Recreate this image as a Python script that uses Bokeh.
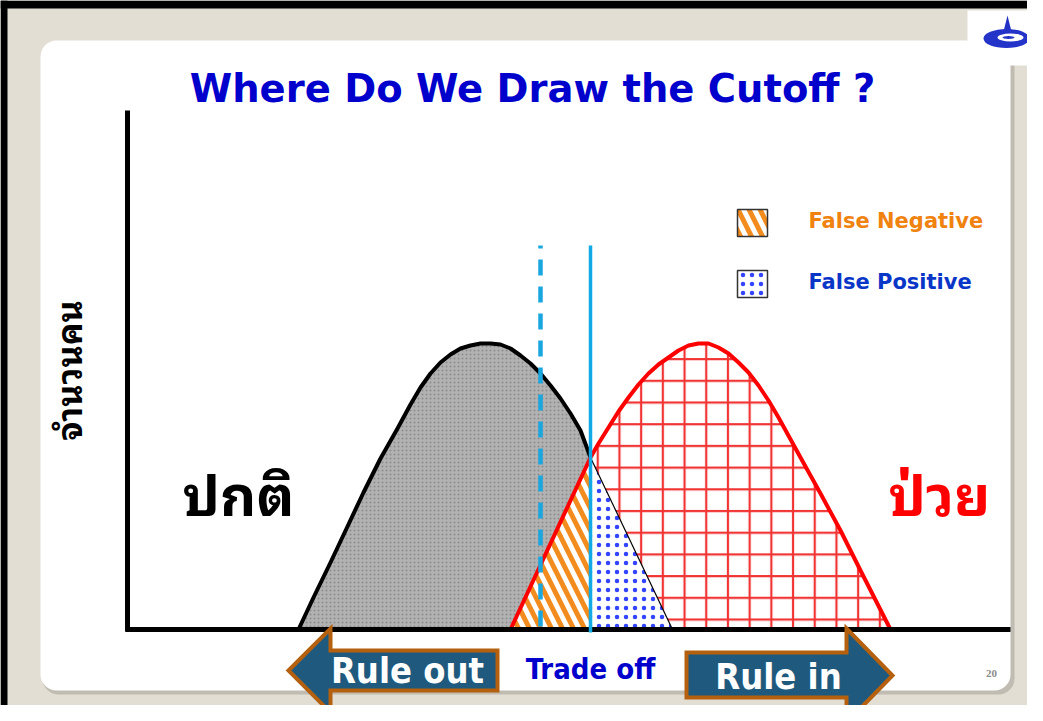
from bokeh.plotting import figure
from bokeh.models import Range1d, BoxAnnotation, Label
from bokeh.embed import file_html
from bokeh.resources import INLINE

# ---------------- data (x: test value, y: number of people) ----------------
normal_x = [171, 186, 203, 220, 236, 253, 270, 283, 293, 303, 313, 323, 333, 343, 353, 363, 373,
            383, 393, 403, 413, 423, 433, 443, 453, 463, 545]
normal_y = [0, 32, 67, 103, 137, 171, 201, 225, 242, 256, 267, 275, 281, 284, 286, 286, 285,
            281, 274, 266, 256, 244, 231, 216, 199, 172, 0]
disease_x = [383, 463, 471, 481, 491, 501, 511, 521, 531, 541, 551, 561, 571, 581, 591, 601, 611,
             621, 631, 641, 651, 673, 693, 713, 733, 763]
disease_y = [0, 172, 186, 202, 218, 232, 245, 256, 265, 272, 279, 284, 286, 286, 282, 276, 267,
             257, 244, 229, 212, 172, 136, 99, 59, 0]
cutoff_dashed = 413
cutoff_solid = 463

title_text = "Where Do We Draw the Cutoff ?"
ylabel_text = "จำนวนคน"
normal_label = "ปกติ"
disease_label = "ป่วย"
legend_labels = ["False Negative", "False Positive"]
arrow_labels = ["Rule out", "Rule in"]
middle_label = "Trade off"
page_number = "20"

# ---------------- figure ----------------
W, H = 1027, 705


def X(px):
    return px - 127


def Y(py):
    return 629 - py


p = figure(width=W, height=H, x_range=Range1d(X(0), X(W)), y_range=Range1d(Y(H), Y(0)),
           output_backend="svg", toolbar_location=None,
           x_axis_location=None, y_axis_location=None, min_border=0)
p.outline_line_color = None
p.background_fill_color = "#E3DED3"
p.border_fill_color = "#E3DED3"
p.grid.visible = False


def box(l, r, t, b, color, alpha=1.0, radius=0):
    p.add_layout(BoxAnnotation(left=X(l), right=X(r), top=Y(t), bottom=Y(b), border_radius=radius,
                               fill_color=color, fill_alpha=alpha, line_color=None, level="underlay"))


# slide frame
box(0, 1100, 0, 8, "black")
box(0, 7, 0, 760, "black")
box(42, 1014, 43, 694, "#aaa59c", 0.6, 16)
box(40, 1010, 40, 690, "white", 1.0, 16)
box(967, 1100, 10, 65, "white")

# ---------------- curves / regions ----------------
k = normal_x.index(cutoff_solid)
j = disease_x.index(cutoff_solid)

stripes = dict(hatch_pattern="\\", hatch_color="#f28c1e", hatch_scale=22, hatch_weight=5)
dots = dict(hatch_pattern=".", hatch_color="#3344ff", hatch_scale=9, hatch_weight=1)

# normal population (grey texture)
p.varea(x=normal_x[:k + 1], y1=0, y2=normal_y[:k + 1], fill_color="#b2b2b2",
        hatch_pattern=".", hatch_color="#6e6e6e", hatch_scale=4, hatch_weight=1, hatch_alpha=0.55)
# disease population (red grid)
p.varea(x=disease_x[j:], y1=0, y2=disease_y[j:], fill_color="white",
        hatch_pattern="+", hatch_color="#ee1111", hatch_scale=21.7, hatch_weight=2.2, hatch_alpha=0.85)
# false negative (orange stripes)
p.varea(x=disease_x[:j + 1], y1=0, y2=disease_y[:j + 1], fill_color="white", **stripes)
# false positive (blue dots)
p.varea(x=normal_x[k:], y1=0, y2=normal_y[k:], fill_color="white", **dots)

p.line(normal_x[k:], normal_y[k:], line_color="black", line_width=1.2)
p.line(normal_x[:k + 1], normal_y[:k + 1], line_color="black", line_width=4, line_join="round")
p.line(disease_x, disease_y, line_color="#ff0000", line_width=4, line_join="round")

# axes
p.line([X(127), X(127)], [Y(110), Y(631)], line_color="black", line_width=5)
p.line([X(125), X(1010)], [Y(629), Y(629)], line_color="black", line_width=5)

# cutoffs
p.segment(x0=[cutoff_dashed], y0=[Y(626)], x1=[cutoff_dashed], y1=[Y(245)],
          line_color="#1aa7e0", line_width=4.5, line_dash="16 11")
p.segment(x0=[cutoff_solid], y0=[Y(632)], x1=[cutoff_solid], y1=[Y(245)],
          line_color="#12aae6", line_width=3.5)

# legend swatches
p.quad(left=[X(737)], right=[X(767)], top=[Y(209)], bottom=[Y(236)], fill_color="white",
       line_color="#333333", line_width=1.5, **stripes)
p.quad(left=[X(737)], right=[X(767)], top=[Y(270)], bottom=[Y(297)], fill_color="white",
       line_color="#333333", line_width=1.5, **dots)

# arrows
arrow_fill = "#1f5a7e"
arrow_line = "#b4600e"
lx = [288, 330, 330, 497, 497, 330, 330]
ly = [670, 628, 650, 650, 690, 690, 712]
p.patch([X(v) for v in lx], [Y(v) for v in ly], fill_color=arrow_fill, line_color=arrow_line,
        line_width=4, line_join="miter")
rx = [686, 846, 846, 892, 846, 846, 686]
ry = [652, 652, 628, 675, 722, 697, 697]
p.patch([X(v) for v in rx], [Y(v) for v in ry], fill_color=arrow_fill, line_color=arrow_line,
        line_width=4, line_join="miter")

# logo
p.patch([X(1007), X(1003), X(1011)], [Y(15), Y(31), Y(31)], fill_color="#2231c4", line_color=None)
p.ellipse(x=[X(1006)], y=[Y(38)], width=46, height=19, fill_color="#2433c8", line_color=None)
p.ellipse(x=[X(1010)], y=[Y(37)], width=26, height=8, fill_color="white", line_color=None)
p.ellipse(x=[X(1008)], y=[Y(37)], width=12, height=3, fill_color="#2433c8", line_color=None)


# ---------------- texts ----------------
def lab(px, py, text, size, color, font="DejaVu Sans", align="center", angle=0, style="bold"):
    p.add_layout(Label(x=X(px), y=Y(py), text=text, text_font=font, text_font_size=f"{size}px",
                       text_color=color, text_align=align, text_baseline="middle", angle=angle,
                       text_font_style=style))


thai = "Noto Sans Thai Looped, Noto Sans Thai"
narrow = "DejaVu Sans Condensed, Roboto"
lab(532, 88, title_text, 38.5, "#0000cc")
lab(808, 220, legend_labels[0], 21, "#f0820f", align="left")
lab(808, 281, legend_labels[1], 21, "#0a36c8", align="left")
lab(238, 490, normal_label, 56, "black", font=thai)
lab(939, 490, disease_label, 56, "#ff0000", font=thai)
lab(66, 370, ylabel_text, 34, "black", font=thai, angle=1.5707963)
lab(407, 670, arrow_labels[0], 36, "white", font=narrow)
lab(778, 676, arrow_labels[1], 36, "white", font=narrow)
lab(590, 668, middle_label, 29, "#0000cc", font=narrow)
lab(991, 673, page_number, 11, "#8c8c8c", font="Liberation Serif")

open("out.html", "w").write(file_html(p, INLINE))
